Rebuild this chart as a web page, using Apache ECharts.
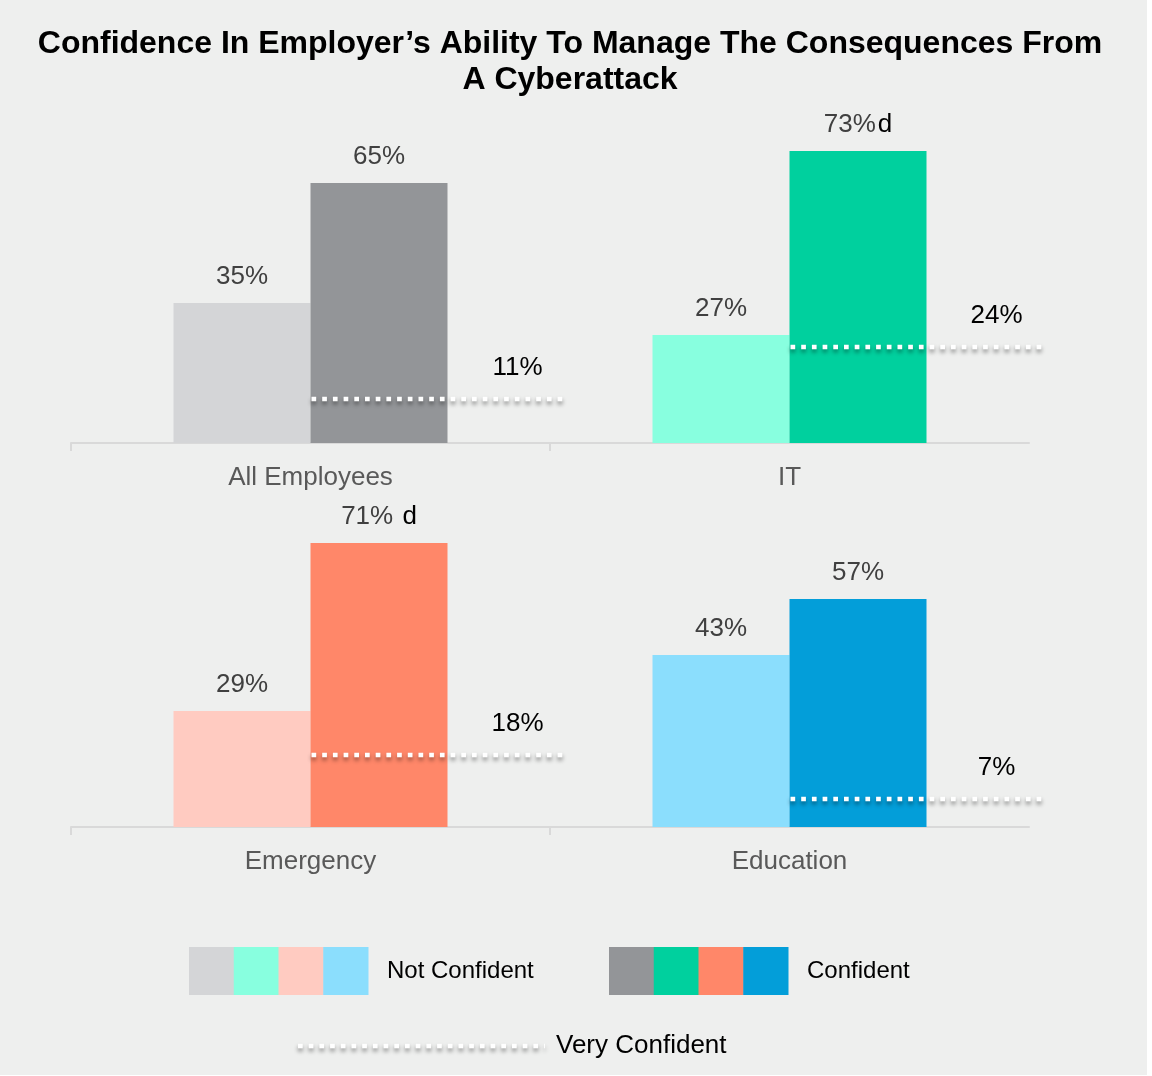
<!DOCTYPE html>
<html>
<head>
<meta charset="utf-8">
<script src="https://cdn.jsdelivr.net/npm/echarts@6/dist/echarts.min.js"></script>
<style>
  html, body { margin: 0; padding: 0; background: #ffffff; }
  #chart { width: 1147px; height: 1075px; }
</style>
</head>
<body>
<div id="chart"></div>
<script>
// Survey groups, two per row
const categories = ['All Employees', 'IT', 'Emergency', 'Education'];
const notConfident = [35, 27, 29, 43];
const confident = [65, 73, 71, 57];
const veryConfident = [11, 24, 18, 7];
const confidentNotes = ['', 'd', ' d', ''];

const notConfidentColors = ['#d4d5d7', '#88ffdf', '#ffcbc1', '#8bdefd'];
const confidentColors = ['#939598', '#00d09e', '#ff8769', '#039ed9'];

const titleText = 'Confidence In Employer\u2019s Ability To Manage The Consequences From\nA Cyberattack';
const legendNames = ['Not Confident', 'Confident', 'Very Confident'];

const FONT = '"Liberation Sans", Arial, sans-serif';
const DOT_STYLE = { stroke: '#ffffff', lineWidth: 4.7, lineDash: [4.7, 6],
                    shadowBlur: 4, shadowColor: 'rgba(0,0,0,0.45)', shadowOffsetY: 3 };

const chart = echarts.init(document.getElementById('chart'));

const rows = [[0, 1], [2, 3]];
const gridTops = [123, 507];
const grids = [], xAxes = [], yAxes = [], series = [];

rows.forEach((idx, r) => {
  grids.push({ left: 71, right: 118, top: gridTops[r], height: 320 });
  xAxes.push({
    type: 'category', gridIndex: r,
    data: idx.map(i => categories[i]),
    axisLine: { lineStyle: { color: '#d9d9d9', width: 2 } },
    axisTick: { show: false },
    axisLabel: { color: '#595959', fontSize: 26, fontFamily: FONT, margin: 22 }
  });
  yAxes.push({ type: 'value', gridIndex: r, min: 0, max: 80, show: false, splitLine: { show: false } });
});

// Group separators: ticks only at the left edge and between the two groups
rows.forEach((idx, r) => {
  xAxes.push({
    type: 'value', gridIndex: r, min: 0, max: 2, position: 'bottom',
    axisLine: { show: false }, axisLabel: { show: false }, splitLine: { show: false },
    axisTick: { show: true, customValues: [0, 1], length: 8, lineStyle: { color: '#d9d9d9', width: 2 } }
  });
});

rows.forEach((idx, r) => {
  series.push({
    type: 'bar', name: legendNames[0], xAxisIndex: r, yAxisIndex: r,
    barWidth: 137, barGap: '0%',
    data: idx.map(i => ({ value: notConfident[i], itemStyle: { color: notConfidentColors[i] } })),
    label: { show: true, position: 'top', distance: 13, color: '#404040', fontSize: 26, fontFamily: FONT,
             formatter: p => p.value + '%' }
  });
  series.push({
    type: 'bar', name: legendNames[1], xAxisIndex: r, yAxisIndex: r,
    barWidth: 137, barGap: '0%',
    data: idx.map(i => ({ value: confident[i], itemStyle: { color: confidentColors[i] } })),
    label: { show: true, position: 'top', distance: 13, fontFamily: FONT,
             formatter: p => {
               const note = confidentNotes[idx[p.dataIndex]];
               return '{v|' + p.value + '%}' + (note ? '{n|' + note + '}' : '');
             },
             rich: {
               v: { color: '#404040', fontSize: 26, fontFamily: FONT },
               n: { color: '#000000', fontSize: 26, fontFamily: FONT, padding: [0, 0, 0, 2] }
             } }
  });
  // "Very confident" share: dotted marker starting at each group's centre
  series.push({
    type: 'custom', name: legendNames[2], xAxisIndex: r, yAxisIndex: r, clip: false, z: 5,
    data: idx.map(i => [categories[i], veryConfident[i]]),
    encode: { x: 0, y: 1 },
    renderItem: (params, api) => {
      const p = api.coord([api.value(0), api.value(1)]);
      return {
        type: 'group',
        children: [
          { type: 'line',
            shape: { x1: p[0] + 1, y1: p[1], x2: p[0] + 252, y2: p[1] },
            style: DOT_STYLE },
          { type: 'text',
            style: { text: api.value(1) + '%', x: p[0] + 207, y: p[1] - 31,
                     textAlign: 'center', textVerticalAlign: 'middle',
                     fill: '#000000', font: '26px ' + FONT } }
        ]
      };
    }
  });
});

// Title and legend: one swatch strip per bar family plus the dotted marker
const swatchW = 44.75;
const graphics = [
  { type: 'text', x: 570, y: 26,
    style: { text: titleText, textAlign: 'center', textVerticalAlign: 'top',
             font: 'bold 32px ' + FONT, lineHeight: 36, fill: '#000000' } }
];
notConfidentColors.forEach((c, k) => graphics.push({
  type: 'rect', shape: { x: 189 + k * swatchW, y: 947, width: swatchW + 0.5, height: 48 }, style: { fill: c }
}));
confidentColors.forEach((c, k) => graphics.push({
  type: 'rect', shape: { x: 609 + k * swatchW, y: 947, width: swatchW + 0.5, height: 48 }, style: { fill: c }
}));
graphics.push(
  { type: 'text', x: 387, y: 971, style: { text: legendNames[0], textVerticalAlign: 'middle', font: '24px ' + FONT, fill: '#000000' } },
  { type: 'text', x: 807, y: 971, style: { text: legendNames[1], textVerticalAlign: 'middle', font: '24px ' + FONT, fill: '#000000' } },
  { type: 'line', shape: { x1: 298, y1: 1046, x2: 545, y2: 1046 }, style: DOT_STYLE },
  { type: 'text', x: 556, y: 1046, style: { text: legendNames[2], textVerticalAlign: 'middle', font: '26px ' + FONT, fill: '#000000' } }
);

chart.setOption({
  backgroundColor: '#eeefee',
  animation: false,
  grid: grids,
  xAxis: xAxes,
  yAxis: yAxes,
  series: series,
  graphic: graphics
});
</script>
</body>
</html>
